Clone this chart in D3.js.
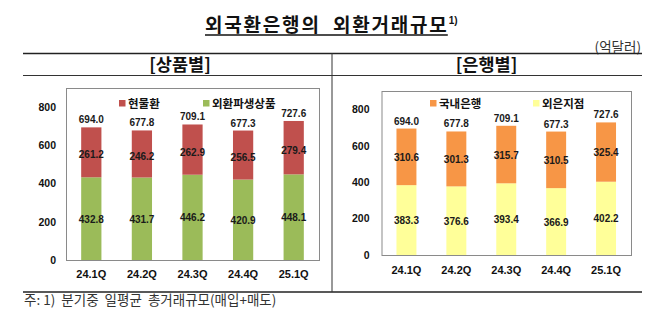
<!DOCTYPE html>
<html><head><meta charset="utf-8">
<script src="https://cdn.jsdelivr.net/npm/d3@7"></script>
<style>
html,body{margin:0;padding:0;background:#fff;}
svg{display:block;}
</style></head>
<body>
<svg id="c" width="670" height="329"></svg>
<script>
// ---- data ----
const quarters = ["24.1Q", "24.2Q", "24.3Q", "24.4Q", "25.1Q"];
const totals = [694.0, 677.8, 709.1, 677.3, 727.6];
const spot = [261.2, 246.2, 262.9, 256.5, 279.4];            // 현물환
const derivatives = [432.8, 431.7, 446.2, 420.9, 448.1];     // 외환파생상품
const domesticBanks = [310.6, 301.3, 315.7, 310.5, 325.4];   // 국내은행
const foreignBranches = [383.3, 376.6, 393.4, 366.9, 402.2]; // 외은지점
const yTicks = [0, 200, 400, 600, 800];
const yMax = 900;

const svg = d3.select("#c");
const KR = "'Noto Sans CJK KR','Noto Sans',sans-serif";
const NUM = "'Liberation Sans',Arial,sans-serif";

// ---- title & frame ----
const title = svg.append("text").attr("x", 205).attr("y", 32)
  .attr("font-family", KR).attr("font-weight", "bold").attr("font-size", 19)
  .attr("letter-spacing", 1.8).style("white-space", "pre").attr("fill", "#111")
  .text("외국환은행의  외환거래규모");
const tb = title.node().getBBox();
const tEnd = tb.x + tb.width - 1.8;
svg.append("line").attr("x1", tb.x).attr("x2", tEnd + 1).attr("y1", 35).attr("y2", 35)
  .attr("stroke", "#111").attr("stroke-width", 1.3);
svg.append("text").attr("x", tEnd + 2).attr("y", 24)
  .attr("font-family", NUM).attr("font-weight", "bold").attr("font-size", 10).attr("fill", "#111").text("1)");
svg.append("text").attr("x", 641).attr("y", 51.5).attr("text-anchor", "end")
  .attr("font-family", KR).attr("font-size", 13.5).attr("fill", "#333").text("(억달러)");

svg.append("line").attr("x1", 23).attr("x2", 642).attr("y1", 53.5).attr("y2", 53.5).attr("stroke", "#222").attr("stroke-width", 1.5);
svg.append("line").attr("x1", 23).attr("x2", 642).attr("y1", 75.5).attr("y2", 75.5).attr("stroke", "#333").attr("stroke-width", 1);
svg.append("line").attr("x1", 23).attr("x2", 642).attr("y1", 292).attr("y2", 292).attr("stroke", "#222").attr("stroke-width", 1.5);
svg.append("line").attr("x1", 332).attr("x2", 332).attr("y1", 53).attr("y2", 292).attr("stroke", "#333").attr("stroke-width", 1);

svg.append("text").attr("x", 180).attr("y", 71).attr("text-anchor", "middle")
  .attr("font-family", KR).attr("font-weight", "bold").attr("font-size", 17.5).attr("fill", "#111").text("[상품별]");
svg.append("text").attr("x", 486.5).attr("y", 71).attr("text-anchor", "middle")
  .attr("font-family", KR).attr("font-weight", "bold").attr("font-size", 17.5).attr("fill", "#111").text("[은행별]");

svg.append("text").attr("x", 24).attr("y", 304.5).style("white-space", "pre")
  .attr("font-family", KR).attr("font-size", 13.5).attr("fill", "#333").text("주: 1)  분기중  일평균  총거래규모(매입+매도)");

// ---- chart builder ----
function drawChart(cfg) {
  const g = svg.append("g");
  const x = d3.scaleBand().domain(quarters).range([cfg.x0, cfg.x1]).padding(0);
  const y = d3.scaleLinear().domain([0, yMax]).range([cfg.yb, cfg.yt]);
  const bw = x.bandwidth() * 0.4;

  g.append("rect").attr("x", cfg.x0 + 0.5).attr("y", cfg.yt + 0.5)
    .attr("width", cfg.x1 - cfg.x0).attr("height", cfg.yb - cfg.yt)
    .attr("fill", "#fff").attr("stroke", "#8a8a8a").attr("stroke-width", 1);

  // bottom segment
  g.selectAll(".b").data(quarters).enter().append("rect")
    .attr("x", d => x(d) + (x.bandwidth() - bw) / 2).attr("width", bw)
    .attr("y", (d, i) => y(cfg.bottom[i])).attr("height", (d, i) => y(0) - y(cfg.bottom[i]))
    .attr("fill", cfg.colors[1]);
  // top segment
  g.selectAll(".t").data(quarters).enter().append("rect")
    .attr("x", d => x(d) + (x.bandwidth() - bw) / 2).attr("width", bw)
    .attr("y", (d, i) => y(cfg.bottom[i] + cfg.top[i])).attr("height", (d, i) => y(cfg.bottom[i]) - y(cfg.bottom[i] + cfg.top[i]))
    .attr("fill", cfg.colors[0]);

  const lab = (sel) => sel.attr("font-family", NUM).attr("font-weight", "bold").attr("font-size", 10)
    .attr("fill", "#1a1a1a").attr("text-anchor", "middle");
  // segment labels
  g.selectAll(".lb").data(quarters).enter().append("text").call(lab)
    .attr("x", d => x(d) + x.bandwidth() / 2)
    .attr("y", (d, i) => (y(0) + y(cfg.bottom[i])) / 2 + 4)
    .text((d, i) => cfg.bottom[i].toFixed(1));
  g.selectAll(".lt").data(quarters).enter().append("text").call(lab)
    .attr("x", d => x(d) + x.bandwidth() / 2)
    .attr("y", (d, i) => (y(cfg.bottom[i]) + y(cfg.bottom[i] + cfg.top[i])) / 2 + 4 + cfg.topShift)
    .text((d, i) => cfg.top[i].toFixed(1));
  // totals
  g.selectAll(".tot").data(quarters).enter().append("text").call(lab)
    .attr("x", d => x(d) + x.bandwidth() / 2)
    .attr("y", (d, i) => y(cfg.bottom[i] + cfg.top[i]) - 4)
    .text((d, i) => totals[i].toFixed(1));

  // axes
  const ya = g.append("g").attr("transform", `translate(${cfg.x0},0)`)
    .call(d3.axisLeft(y).tickValues(yTicks).tickSize(0).tickPadding(cfg.yPad));
  ya.select(".domain").remove();
  ya.selectAll("text").attr("font-family", NUM).attr("font-weight", "bold").attr("font-size", 10.5).attr("fill", "#111");

  const xa = g.append("g").attr("transform", `translate(0,${cfg.yb})`)
    .call(d3.axisBottom(x).tickSize(0).tickPadding(cfg.xPad));
  xa.select(".domain").remove();
  xa.selectAll("text").attr("font-family", NUM).attr("font-weight", "bold").attr("font-size", 11).attr("fill", "#111");

  // legend
  cfg.legend.forEach((name, i) => {
    const lx = cfg.legendX[i];
    g.append("rect").attr("x", lx).attr("y", 100).attr("width", 6.5).attr("height", 6.5).attr("fill", cfg.colors[i]);
    g.append("text").attr("x", lx + 9).attr("y", 107.5)
      .attr("font-family", KR).attr("font-weight", "bold").attr("font-size", 11.5).attr("fill", "#111").text(name);
  });
}

drawChart({
  x0: 66, x1: 319, yt: 88, yb: 260,
  bottom: derivatives, top: spot,
  colors: ["#C0504D", "#9BBB59"],
  legend: ["현물환", "외환파생상품"], legendX: [119, 203],
  yPad: 10, xPad: 10, topShift: 2
});
drawChart({
  x0: 381.5, x1: 631, yt: 91, yb: 255,
  bottom: foreignBranches, top: domesticBanks,
  colors: ["#F79646", "#FFFF99"],
  legend: ["국내은행", "외은지점"], legendX: [430, 533],
  yPad: 12, xPad: 11, topShift: 0
});
</script>
</body></html>
